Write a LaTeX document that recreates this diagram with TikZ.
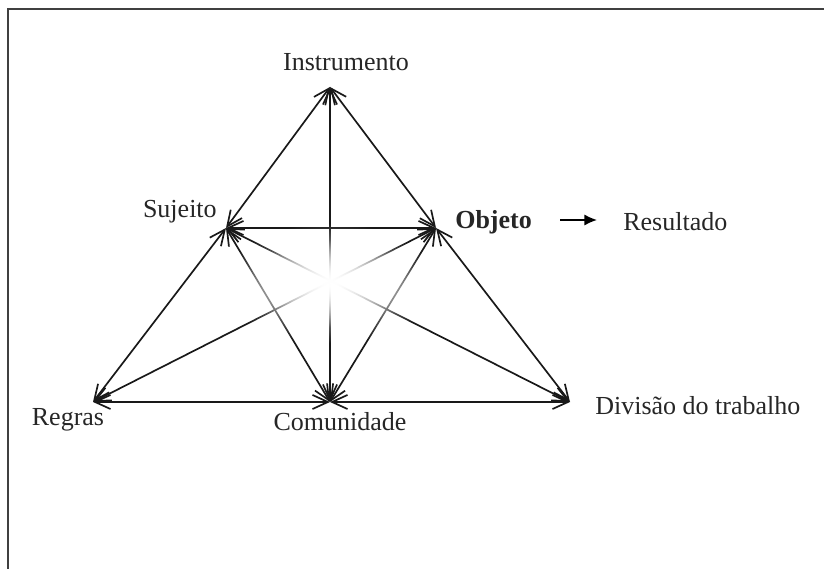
\documentclass[tikz,border=0pt]{standalone}
\usepackage{fontspec}
\setmainfont{Liberation Serif}
\usetikzlibrary{arrows.meta,fadings}
\tikzfading[name=middlefade, inner color=transparent!0, outer color=transparent!100]
\tikzset{
  link/.style={{Straight Barb[length=11pt,width=10pt]}-{Straight Barb[length=11pt,width=10pt]}, line width=1.2pt, black!90},
  lbl/.style={font=\fontsize{18.5}{22}\selectfont, inner sep=0pt, text=black!85}
}
\begin{document}
\begin{tikzpicture}
\useasboundingbox (0,0) rectangle (20.6,14.225);
%frame
\draw[line width=1.3pt, black!75] (0.2,0) -- (0.2,14.0) -- (20.6,14.0);
%points
\coordinate (I) at (8.25,12.05);
\coordinate (S) at (5.65,8.525);
\coordinate (O) at (10.9,8.525);
\coordinate (R) at (2.325,4.175);
\coordinate (C) at (8.25,4.175);
\coordinate (D) at (14.25,4.175);
%links
\draw[link] (I) -- (S);
\draw[link] (I) -- (O);
\draw[link] (I) -- (C);
\draw[link] (S) -- (O);
\draw[link] (S) -- (R);
\draw[link] (S) -- (C);
\draw[link] (S) -- (D);
\draw[link] (O) -- (R);
\draw[link] (O) -- (C);
\draw[link] (O) -- (D);
\draw[link] (R) -- (C);
\draw[link] (C) -- (D);
%washed out middle
\fill[white, path fading=middlefade] (8.25,7.15) ellipse (2.7 and 1.5);
\fill[white, path fading=middlefade] (8.25,7.15) ellipse (2.2 and 1.1);
%labels
\node[lbl] (instrumento) at (8.65,12.675) {Instrumento};
\node[lbl, anchor=east] (sujeito) at (5.425,8.925) {Sujeito};
\node[lbl, anchor=west, font=\fontsize{18.5}{22}\selectfont\bfseries] (objeto) at (11.375,8.675) {Objeto};
\node[lbl, anchor=west] (resultado) at (15.575,8.675) {Resultado};
\node[lbl] (regras) at (1.7,3.725) {Regras};
\node[lbl] (comunidade) at (8.5,3.675) {Comunidade};
\node[lbl, anchor=west] (divisao) at (14.875,4.075) {Divisão do trabalho};
\coordinate (a1) at (14.0,8.725);
\coordinate (a2) at (14.925,8.725);
\draw[-{Latex[length=9pt,width=8pt]}, line width=1.1pt] (a1) -- (a2);
\end{tikzpicture}
\end{document}
